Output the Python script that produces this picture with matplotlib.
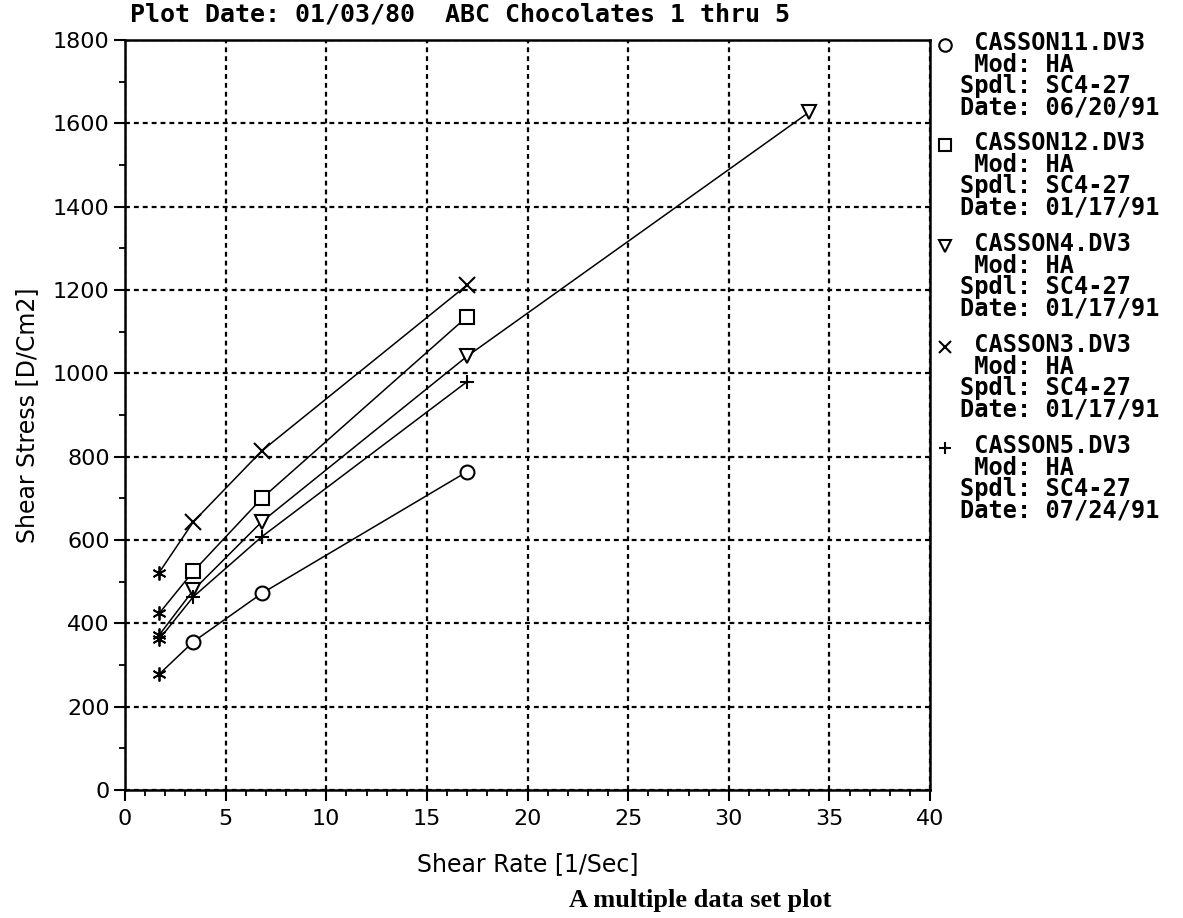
import matplotlib
matplotlib.use("Agg")
import matplotlib.pyplot as plt
from matplotlib.ticker import MultipleLocator

# shear rate for spindle SC4-27 (5, 10, 20, 50, 100 rpm)
shear_rate = [1.7, 3.4, 6.8, 17, 34]

names = ["CASSON11.DV3", "CASSON12.DV3", "CASSON4.DV3", "CASSON3.DV3", "CASSON5.DV3"]
mods = ["HA", "HA", "HA", "HA", "HA"]
spindles = ["SC4-27", "SC4-27", "SC4-27", "SC4-27", "SC4-27"]
dates = ["06/20/91", "01/17/91", "01/17/91", "01/17/91", "07/24/91"]
markers = ["o", "s", "v", "x", "+"]

casson11 = [278, 356, 472, 764]
casson12 = [424, 525, 700, 1136]
casson4 = [372, 480, 644, 1041, 1627]
casson3 = [522, 644, 814, 1212]
casson5 = [362, 464, 608, 980]
stresses = [casson11, casson12, casson4, casson3, casson5]

title = "Plot Date: 01/03/80  ABC Chocolates 1 thru 5"
caption = "A multiple data set plot"

W, H = 1183, 918
fig = plt.figure(figsize=(W / 100, H / 100), dpi=100)
ax = fig.add_axes([125 / W, 1 - 790 / H, (930 - 125) / W, (790 - 40) / H])

mono = "DejaVu Sans Mono"
asterisk = (6, 2, 0)

for ys, m in zip(stresses, markers):
    xs = shear_rate[:len(ys)]
    ax.plot(xs, ys, color="black", lw=1.1, zorder=3)
    # first point drawn as asterisk, rest with series symbol
    ax.plot(xs[:1], ys[:1], ls="none", marker=asterisk, ms=10, mew=1.3,
            color="black", zorder=4)
    mfc = "white" if m in ("o", "s", "v") else "black"
    ax.plot(xs[1:], ys[1:], ls="none", marker=m, ms=10 if m != "x" else 11,
            mfc=mfc, mec="black", mew=1.5, zorder=4)

ax.set_xlim(0, 40)
ax.set_ylim(0, 1800)
ax.xaxis.set_major_locator(MultipleLocator(5))
ax.xaxis.set_minor_locator(MultipleLocator(1))
ax.yaxis.set_major_locator(MultipleLocator(200))
ax.yaxis.set_minor_locator(MultipleLocator(100))
ax.grid(True, which="major", color="black", lw=1.6, ls=(0, (2.2, 1.8)))
ax.set_axisbelow(True)

for s in ax.spines.values():
    s.set_linewidth(1.8)
ax.tick_params(which="major", length=8, width=1.5, direction="out",
               labelsize=16, pad=3)
ax.tick_params(axis="x", which="major", pad=6)
ax.tick_params(which="minor", length=4, width=1.3, direction="out")
for lbl in ax.get_xticklabels() + ax.get_yticklabels():
    lbl.set_family("DejaVu Sans")

ax.set_xlabel("Shear Rate [1/Sec]", fontsize=17, labelpad=16)
ax.set_ylabel("Shear Stress [D/Cm2]", fontsize=17, labelpad=10)

fig.text(130 / W, 1 - 15 / H, title, family=mono, weight="bold",
         fontsize=18, ha="left", va="center")

# legend at right: one marker and one four-line text block per file
block_y = [45, 145, 246, 347, 448]
for i in range(len(names)):
    y0 = block_y[i]
    mfc = "white" if markers[i] in ("o", "s", "v") else "black"
    fig.add_artist(plt.Line2D([945 / W], [1 - y0 / H], marker=markers[i],
                              ms=9, mfc=mfc, mec="black", mew=1.5, ls="none",
                              transform=fig.transFigure))
    block = "\n".join([" " + names[i],
                       " Mod: " + mods[i],
                       "Spdl: " + spindles[i],
                       "Date: " + dates[i]])
    fig.text(960 / W, 1 - (y0 + 30.5) / H, block, family=mono,
             weight="bold", fontsize=17, ha="left", va="center",
             linespacing=0.86)

fig.text(700 / W, 1 - 900 / H, caption, family="Liberation Serif",
         weight="bold", fontsize=19, ha="center", va="center")

fig.savefig("out.png", dpi=100)
